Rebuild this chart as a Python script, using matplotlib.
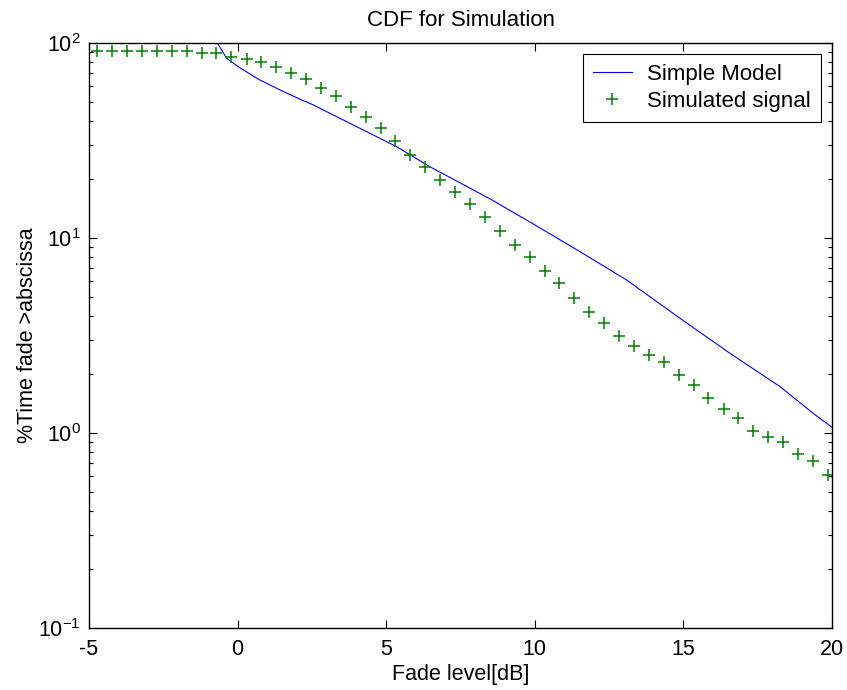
import numpy as np
import matplotlib
matplotlib.use('Agg')
import matplotlib.pyplot as plt
from matplotlib.ticker import LogLocator, NullFormatter

plt.rcParams['font.family'] = ['Liberation Sans', 'DejaVu Sans']
plt.rcParams['mathtext.fontset'] = 'custom'
plt.rcParams['mathtext.rm'] = 'Liberation Sans'
plt.rcParams['mathtext.it'] = 'Liberation Sans:italic'
plt.rcParams['mathtext.bf'] = 'Liberation Sans:bold'
plt.rcParams['axes.unicode_minus'] = False

# Simple model curve
model_x = [-0.72, -0.68, -0.37, 0.02, 0.70, 1.43, 2.04, 2.55, 3.89, 5.35, 6.47,
           8.16, 8.55, 9.95, 11.52, 13.09, 14.89, 16.57, 18.25, 19.37, 19.93, 20.0]
model_y = [102.0, 100.0, 83.5, 75.6, 65.2, 57.4, 52.0, 48.1, 38.0, 29.4, 23.2,
           16.9, 15.7, 11.8, 8.51, 6.09, 3.87, 2.56, 1.73, 1.26, 1.09, 1.07]

# Simulated signal points
sim_x = [-4.72, -4.22, -3.72, -3.22, -2.71, -2.21, -1.71, -1.21, -0.71, -0.21,
         0.30, 0.80, 1.30, 1.80, 2.30, 2.80, 3.31, 3.81, 4.31, 4.81,
         5.31, 5.81, 6.32, 6.82, 7.32, 7.82, 8.32, 8.82, 9.32, 9.83,
         10.33, 10.83, 11.33, 11.83, 12.33, 12.84, 13.34, 13.84, 14.34, 14.84,
         15.34, 15.84, 16.35, 16.85, 17.35, 17.85, 18.35, 18.85, 19.36, 19.86]
sim_y = [91.0, 91.0, 91.0, 91.0, 91.0, 91.0, 91.0, 89.0, 89.0, 85.1,
         82.5, 79.6, 75.6, 69.9, 65.4, 59.0, 53.7, 47.1, 41.9, 36.5,
         31.6, 26.8, 23.2, 19.8, 17.3, 14.9, 12.8, 10.8, 9.2, 7.96,
         6.80, 5.90, 4.91, 4.19, 3.65, 3.16, 2.80, 2.51, 2.30, 1.98,
         1.76, 1.52, 1.32, 1.19, 1.02, 0.957, 0.90, 0.78, 0.72, 0.61]

fs = 15.5

fig = plt.figure(figsize=(8.47, 6.90), dpi=100)
ax = fig.add_axes([89/847, 1 - 628/690, (832 - 89)/847, (628 - 43)/690])

ax.plot(model_x, model_y, color='#0000ff', linewidth=0.8, label='Simple Model')
ax.plot(sim_x, sim_y, linestyle='none', marker='+', markersize=9,
        markeredgewidth=1.1, color='#008000', label='Simulated signal')

ax.set_yscale('log')
ax.set_xlim(-5, 20)
ax.set_ylim(0.1, 100)
ax.set_xticks([-5, 0, 5, 10, 15, 20])
ax.yaxis.set_major_locator(LogLocator(base=10, numticks=10))
ax.yaxis.set_minor_locator(LogLocator(base=10, subs=np.arange(2, 10), numticks=10))
ax.yaxis.set_minor_formatter(NullFormatter())

ax.tick_params(which='both', direction='in', top=True, right=True, labelsize=fs)
ax.tick_params(which='major', length=6, width=0.8)
ax.tick_params(axis='x', which='major', pad=8)
ax.tick_params(axis='y', which='major', pad=6)
ax.tick_params(which='minor', length=3, width=0.8)
for s in ax.spines.values():
    s.set_linewidth(1.0)

ax.set_title('CDF for Simulation', fontsize=16, pad=12)
ax.set_xlabel('Fade level[dB]', fontsize=fs, labelpad=3)
ax.set_ylabel('%Time fade >abscissa', fontsize=fs, labelpad=0)

leg = ax.legend(loc='upper right', fontsize=16, frameon=True, fancybox=False,
                edgecolor='black', framealpha=1, handlelength=1.75,
                handletextpad=0.7, borderaxespad=0.5, borderpad=0.45,
                labelspacing=0.25)
leg.get_frame().set_linewidth(0.8)

fig.savefig('out.png', dpi=100)
